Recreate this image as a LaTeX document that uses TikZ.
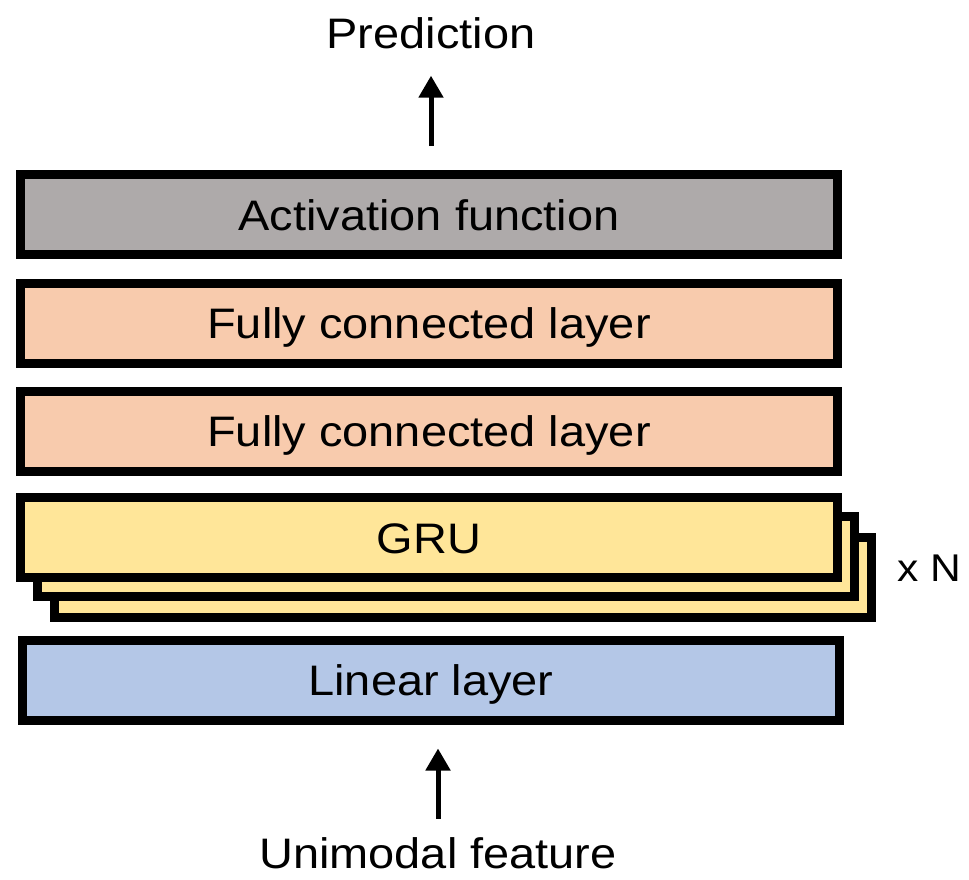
\documentclass[tikz,border=0pt]{standalone}
\usepackage{fontspec}
\setmainfont{Liberation Sans}[FakeStretch=1.1]
\usetikzlibrary{arrows.meta}

\definecolor{actgray}{HTML}{AEAAAA}
\definecolor{fcpeach}{HTML}{F8CBAD}
\definecolor{gruyellow}{HTML}{FFE699}
\definecolor{linblue}{HTML}{B4C7E7}

\begin{document}
\begin{tikzpicture}[
  x=0.75pt, y=-0.75pt,
  every node/.style={font=\fontsize{32pt}{38pt}\selectfont},
  layer/.style={draw=black, line width=6.75pt, rectangle,
    minimum width=612.75pt, minimum height=60pt, inner sep=0pt,
    text height=23.25pt, text depth=0pt},
  lbl/.style={inner sep=0pt, anchor=base},
  arr/.style={line width=3.75pt,
    -{Triangle[width=18pt,length=16.5pt]}}
]
\useasboundingbox (0,0) rectangle (969,879);

% layer stack, drawn from the top down
\node[layer, fill=actgray] (act) at (429,214.5) {Activation function};
\node[layer, fill=fcpeach] (fc1) at (429,323) {Fully connected layer};
\node[layer, fill=fcpeach] (fc2) at (429,431) {Fully connected layer};

% stacked GRU blocks, back copies first
\node[layer, fill=gruyellow] (gru3) at (463,577) {};
\node[layer, fill=gruyellow] (gru2) at (446,556.5) {};
\node[layer, fill=gruyellow] (gru) at (429,537.5) {GRU};

\node[layer, fill=linblue] (lin) at (431,680) {Linear layer};

% labels
\node[lbl] (pred) at (431,48) {Prediction};
\node[lbl] (uni) at (438,868) {Unimodal feature};
\node[lbl, font=\fontsize{29pt}{34pt}\selectfont] (rep) at (929,581) {x N};

% arrows
\draw[arr, shorten <=18pt, shorten >=20.25pt] (pred.south |- act.north) -- (pred.south);
\draw[arr, shorten <=13.5pt, shorten >=18pt] (uni.north) -- (uni.north |- lin.south);
\end{tikzpicture}
\end{document}
